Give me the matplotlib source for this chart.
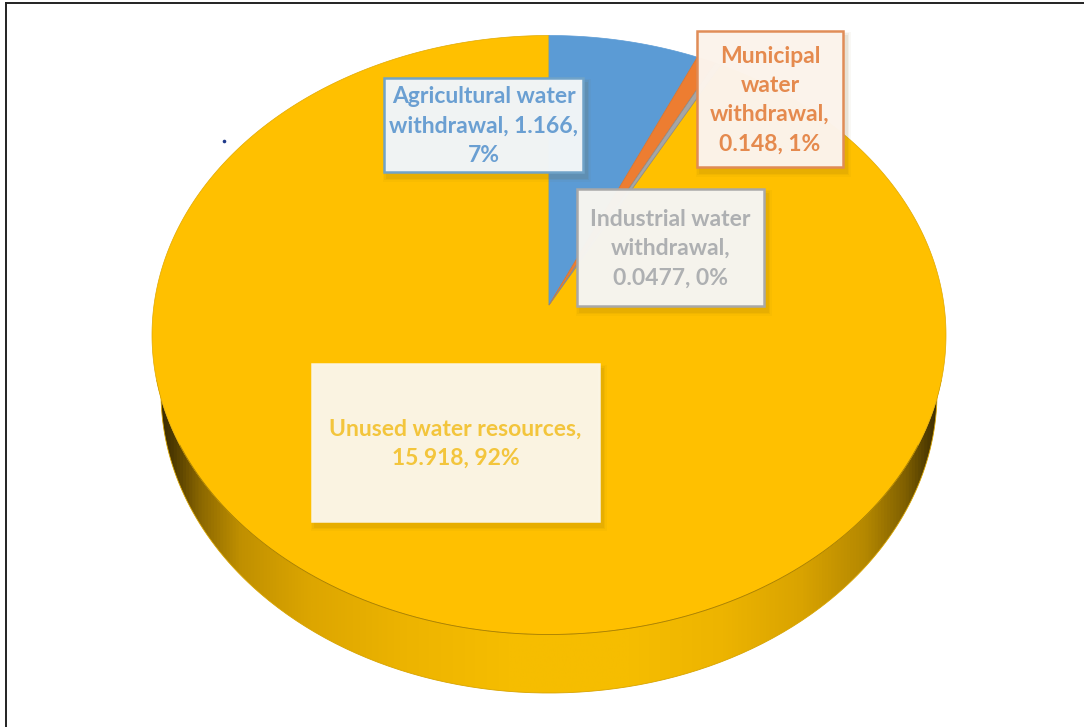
import numpy as np
import matplotlib
matplotlib.use("Agg")
import matplotlib.pyplot as plt
from matplotlib.colors import LinearSegmentedColormap
from matplotlib.patches import Polygon, Rectangle

categories = ["Agricultural water withdrawal", "Municipal water withdrawal",
              "Industrial water withdrawal", "Unused water resources"]
values = [1.166, 0.148, 0.0477, 15.918]
percent_labels = ["7%", "1%", "0%", "92%"]
slice_colors = ["#5B9BD5", "#ED7D31", "#A5A5A5", "#FFC000"]
edge_colors = ["#5B9BD5", "#D8722C", "#8A8A8A", "#E0A900"]

# Wrapped label text, box extent (left, top, right, bottom) and text colour
label_lines = [
    ["Agricultural water", "withdrawal, 1.166,", "7%"],
    ["Municipal", "water", "withdrawal,", "0.148, 1%"],
    ["Industrial water", "withdrawal,", "0.0477, 0%"],
    ["Unused water resources,", "15.918, 92%"],
]
label_boxes = [(384, 78, 583, 172), (697, 31, 843, 167), (577, 189, 764, 306), (312, 364, 599, 521)]
label_text_colors = ["#6A9FD2", "#E58A4E", "#AEB0B2", "#F3C53C"]
label_edges = ["#6FA3C8", "#E08B55", "#A8A8A8", "#FBF5E6"]
label_faces = ["#F1F5F8", "#FCF4EC", "#F6F5F1", "#FBF5E6"]

W, H = 1084, 727
CX, CY, RX, RY = 549.0, 335.0, 397.0, 299.5   # top face ellipse
APEX = (549.0, 305.0)                         # tilted view moves the pie centre up
BCX, BCY, BRX, BRY = 549.0, 393.0, 388.0, 300.0  # lower rim of the side wall

fig = plt.figure(figsize=(W / 100, H / 100), dpi=100)
ax = fig.add_axes([0, 0, 1, 1])
ax.set_xlim(0, W)
ax.set_ylim(H, 0)
ax.axis("off")

# Frame: only the top and left rules
ax.plot([6, 6], [H, 3], color="#222222", lw=1.4, zorder=0, solid_capstyle="projecting")
ax.plot([6, W], [3, 3], color="#222222", lw=1.4, zorder=0, solid_capstyle="projecting")


def rim_point(theta):
    """Where a ray from the apex, theta clockwise from 12 o'clock, meets the top ellipse."""
    dx, dy = np.sin(theta) * RX, -np.cos(theta) * RY
    ax0, ay0 = (APEX[0] - CX) / RX, (APEX[1] - CY) / RY
    bx, by = dx / RX, dy / RY
    a = bx ** 2 + by ** 2
    b = 2 * (ax0 * bx + ay0 * by)
    c = ax0 ** 2 + ay0 ** 2 - 1
    t = (-b + np.sqrt(b ** 2 - 4 * a * c)) / (2 * a)
    return APEX[0] + t * dx, APEX[1] + t * dy


# Side wall: lower rim closed along the top ellipse, shaded darker towards the flanks
phi = np.linspace(0, np.pi, 300)
wall_x = np.concatenate([BCX + BRX * np.cos(phi), CX + RX * np.cos(phi[::-1])])
wall_y = np.concatenate([BCY + BRY * np.sin(phi), CY + RY * np.sin(phi[::-1])])
wall_cmap = LinearSegmentedColormap.from_list("wall", [
    (0.0, "#2E2200"), (0.025, "#4E3A00"), (0.06, "#8C6800"), (0.11, "#C09000"),
    (0.2, "#DDA600"), (0.32, "#EDB400"), (0.45, "#F6BD00"), (0.6, "#F6BD00"),
    (0.72, "#EDB400"), (0.82, "#D9A300"), (0.9, "#B58800"), (0.95, "#806000"),
    (0.98, "#4E3A00"), (1.0, "#2E2200")])
shade = ax.imshow(np.linspace(0, 1, 512).reshape(1, -1), cmap=wall_cmap, aspect="auto",
                  extent=(152, 946, 700, 380), zorder=1)
shade.set_clip_path(Polygon(np.column_stack([wall_x, wall_y]), transform=ax.transData))
ax.plot(BCX + BRX * np.cos(phi), BCY + BRY * np.sin(phi), color="#D8A400", lw=0.6, zorder=2)

# Top face slices, clockwise from 12 o'clock and sized from the values
total = sum(values)
bounds = 2 * np.pi * np.concatenate([[0], np.cumsum(values)]) / total
for i in range(len(values)):
    thetas = np.linspace(bounds[i], bounds[i + 1], max(3, int((bounds[i + 1] - bounds[i]) * 120)))
    rim = np.array([rim_point(t) for t in thetas])
    verts = np.vstack([APEX, rim])
    ax.add_patch(Polygon(verts, closed=True, fc=slice_colors[i], ec=edge_colors[i], lw=0.5,
                         zorder=3 if i == 3 else 4))

# Thin darker seam where the top face meets the wall at the front
front = np.linspace(0.12, 0.88, 200) * np.pi
ax.plot(CX + RX * np.cos(front), CY + RY * np.sin(front), color="#A87F00", lw=0.6, zorder=4)

# Navy speck left of the pie
ax.plot([224], [141], marker="o", ms=2.6, color="#1F3A8A", mew=0, zorder=5)

# Data labels: soft shadow, near-opaque box, bold text
for lines, box, tc, ec, fc in zip(label_lines, label_boxes, label_text_colors, label_edges, label_faces):
    left, top, right, bottom = box
    for grow, alpha in ((9, 0.04), (6, 0.06), (3, 0.08)):
        ax.add_patch(Rectangle((left + 3 - grow / 2, top + 5 - grow / 2), right - left + grow,
                               bottom - top + grow, fc="#7A5A10", ec="none", alpha=alpha, zorder=6))
    ax.add_patch(Rectangle((left, top), right - left, bottom - top, fc=fc, ec=ec, lw=1.8,
                           alpha=0.985, zorder=7))
    mid_x = (left + right) / 2
    mid_y = (top + bottom) / 2
    n = len(lines)
    for k, line in enumerate(lines):
        ax.text(mid_x, mid_y + (k - (n - 1) / 2) * 29.3 + 1, line, ha="center", va="center",
                fontsize=16.5, fontweight="bold", family=["Lato", "DejaVu Sans"], color=tc, zorder=8)

fig.savefig("out.png", dpi=100)
